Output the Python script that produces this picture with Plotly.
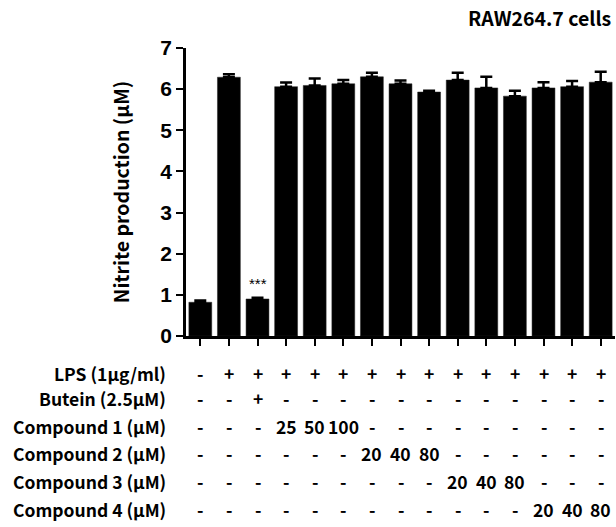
import plotly.graph_objects as go

groups = list(range(15))
values = [0.82, 6.29, 0.90, 6.06, 6.09, 6.13, 6.30, 6.13, 5.93, 6.22, 6.03, 5.83, 6.03, 6.06, 6.17]
err_up = [0.04, 0.07, 0.03, 0.10, 0.17, 0.09, 0.10, 0.08, 0.03, 0.18, 0.27, 0.13, 0.14, 0.14, 0.25]

row_labels = ["LPS (1µg/ml)", "Butein (2.5µM)", "Compound 1 (µM)", "Compound 2 (µM)",
              "Compound 3 (µM)", "Compound 4 (µM)"]
lps = ["-", "+", "+", "+", "+", "+", "+", "+", "+", "+", "+", "+", "+", "+", "+"]
butein = ["-", "-", "+", "-", "-", "-", "-", "-", "-", "-", "-", "-", "-", "-", "-"]
comp1 = ["-", "-", "-", "25", "50", "100", "-", "-", "-", "-", "-", "-", "-", "-", "-"]
comp2 = ["-", "-", "-", "-", "-", "-", "20", "40", "80", "-", "-", "-", "-", "-", "-"]
comp3 = ["-", "-", "-", "-", "-", "-", "-", "-", "-", "20", "40", "80", "-", "-", "-"]
comp4 = ["-", "-", "-", "-", "-", "-", "-", "-", "-", "-", "-", "-", "20", "40", "80"]
table_rows = [lps, butein, comp1, comp2, comp3, comp4]
sig_marks = {2: "***"}

ytick_vals = [0, 1, 2, 3, 4, 5, 6, 7]

W, H = 616, 527
plot_left, plot_top, plot_bottom = 186, 48, 336
row_px = [373, 398, 426, 453, 481, 509]

def paper_y(px):
    return (plot_bottom - px) / (plot_bottom - plot_top)

def paper_x(px):
    return (px - plot_left) / (W - 1 - plot_left)

fig = go.Figure()
fig.add_trace(go.Bar(
    x=groups, y=values,
    marker=dict(color="black", line=dict(color="#222", width=0.5)),
    width=0.8,
    error_y=dict(type="data", symmetric=False, array=err_up,
                 arrayminus=[0] * len(err_up), color="black",
                 thickness=2.5, width=6),
))

label_font = dict(family="Noto Sans CJK KR", size=17.5, color="black", weight="bold")
ann = []
for r, (lab, row) in enumerate(zip(row_labels, table_rows)):
    yp = paper_y(row_px[r])
    ann.append(dict(text=lab, xref="paper", yref="paper", x=paper_x(168), y=yp,
                    xanchor="right", yanchor="middle", showarrow=False, font=label_font))
    for g, s in zip(groups, row):
        ann.append(dict(text=s, xref="x", yref="paper", x=g, y=yp,
                        xanchor="center", yanchor="middle", showarrow=False, font=label_font))
for g, s in sig_marks.items():
    ann.append(dict(text=s, xref="x", yref="y", x=g, y=values[g] + err_up[g],
                    yanchor="bottom", yshift=4, showarrow=False,
                    font=dict(family="Liberation Sans", size=15, color="black")))
ann.append(dict(text="RAW264.7 cells", xref="paper", yref="paper", x=paper_x(613), y=paper_y(17),
                xanchor="right", yanchor="middle", showarrow=False,
                font=dict(family="Noto Sans CJK KR", size=19.5, color="black", weight="bold")))

fig.update_layout(
    width=W, height=H,
    margin=dict(l=plot_left, r=1, t=plot_top, b=H - plot_bottom, pad=0),
    plot_bgcolor="white", paper_bgcolor="white",
    showlegend=False, bargap=0.2,
    annotations=ann,
    xaxis=dict(range=[-0.5, 14.5], tickmode="array", tickvals=groups, ticktext=[""] * 15,
               showline=True, linecolor="black", linewidth=2.5, ticks="outside",
               ticklen=7, tickwidth=2, tickcolor="black", showgrid=False, zeroline=False),
    yaxis=dict(range=[0, 7], tickmode="array", tickvals=ytick_vals,
               showline=True, linecolor="black", linewidth=2.5, ticks="outside",
               ticklen=7, tickwidth=2, tickcolor="black", showgrid=False, zeroline=False,
               tickfont=dict(family="Liberation Sans", size=21, color="black", weight="bold"),
               title=dict(text="Nitrite production (µM)", standoff=26,
                          font=dict(family="Noto Sans CJK KR", size=19.5, color="black", weight="bold"))),
)

fig.write_html("out.html", config={"displayModeBar": False},
               post_script="document.body.style.margin='0';document.body.style.overflow='hidden';")
